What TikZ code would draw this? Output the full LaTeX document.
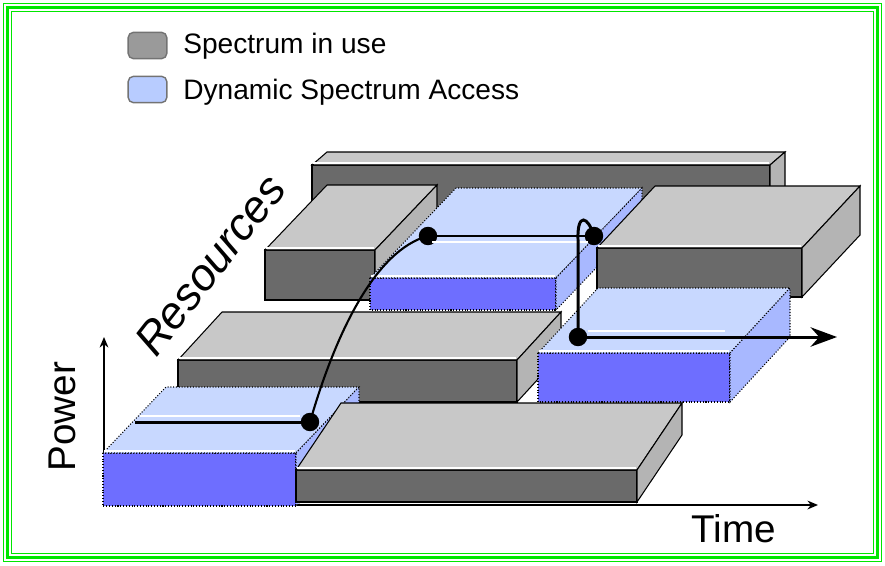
\documentclass[tikz,border=0pt]{standalone}
\usepackage{fontspec}
\setmainfont{Liberation Sans}
\usetikzlibrary{arrows.meta}

\definecolor{grayTop}{HTML}{C8C8C8}
\definecolor{grayFront}{HTML}{6A6A6A}
\definecolor{graySide}{HTML}{B4B4B4}
\definecolor{blueTop}{HTML}{C8D8FF}
\definecolor{blueFront}{HTML}{6E6EFF}
\definecolor{blueSide}{HTML}{A8B8FF}
\definecolor{frameGreen}{HTML}{00E600}
\definecolor{legGray}{HTML}{9A9A9A}
\definecolor{legBlue}{HTML}{B8CCFF}

\tikzset{
  grayfront/.style={fill=grayFront, draw=black, line width=0.6pt},
  graytop/.style={fill=grayTop, draw=black, line width=0.6pt},
  grayside/.style={fill=graySide, draw=black, line width=0.6pt},
  bluefront/.style={fill=blueFront, draw=black, line width=0.6pt, densely dotted},
  bluetop/.style={fill=blueTop, draw=black, line width=0.6pt, densely dotted},
  blueside/.style={fill=blueSide, draw=black, line width=0.6pt, densely dotted},
  legbox/.style={draw=black!55, line width=0.8pt, rounded corners=3pt, minimum width=22pt, minimum height=15pt, inner sep=0pt},
  dot/.style={circle, fill=black, inner sep=0pt, minimum size=10.5pt},
  route/.style={black, line width=1.7pt},
  shine/.style={white, line width=1pt},
  axis/.style={black, line width=0.9pt, -{Stealth[length=6pt,width=5pt]}}
}

% slab: front top left x, y, width, height, depth x, depth y, colour
\newcommand{\slab}[7]{%
  \filldraw[#7front] (#1,#2) rectangle ({#1+#3},{#2+#4});
  \filldraw[#7top] (#1,#2) -- ({#1+#5},{#2+#6}) -- ({#1+#3+#5},{#2+#6}) -- ({#1+#3},#2) -- cycle;
  \filldraw[#7side] ({#1+#3},#2) -- ({#1+#3+#5},{#2+#6}) -- ({#1+#3+#5},{#2+#6+#4}) -- ({#1+#3},{#2+#4}) -- cycle;
  \draw[white, line width=1pt] ({#1+1},{#2-1.8}) -- ({#1+#3-1},{#2-1.8});
}

\begin{document}
\begin{tikzpicture}[x=0.02cm, y=-0.02cm]
\useasboundingbox (0,0) rectangle (885,565);
% frame
\draw[frameGreen, line width=0.6pt] (3.5,3.5) rectangle (881.5,561.5);
\draw[frameGreen, line width=1.6pt] (7.5,7.5) rectangle (877.5,557.5);
\draw[frameGreen, line width=0.6pt] (11.5,11.5) rectangle (873.5,553.5);

% legend
\node[legbox, fill=legGray] (leguse) at (147.5,45.5) {};
\node[legbox, fill=legBlue] (legdsa) at (147.5,89.5) {};
\node[anchor=base west, inner sep=0pt, font=\fontsize{16}{19}\selectfont] (txtuse) at (183,53) {Spectrum in use};
\node[anchor=base west, inner sep=0pt, font=\fontsize{16}{19}\selectfont] (txtdsa) at (183,99) {Dynamic Spectrum Access};

% axes
\coordinate (origin) at (104,505);
\coordinate (ptop) at (104,337);
\coordinate (tend) at (818,505);
\draw[axis] (origin) -- (ptop);
\draw[axis] (origin) -- (tend);

% slabs, back to front
\slab{312}{165}{458}{45}{15}{-13}{gray}
\slab{265}{250}{110}{50}{62}{-65}{gray}
\slab{370}{278}{186}{32}{86}{-90}{blue}
\slab{597}{248}{205}{49}{58}{-62}{gray}
\slab{178}{360}{339}{42}{44}{-48}{gray}
\slab{538}{353}{192}{49}{60}{-65}{blue}
\slab{103}{453}{193}{53}{63}{-66}{blue}
\slab{296}{470}{341}{32}{45}{-67}{gray}

% hopping path
\coordinate (hstart) at (135,422);
\node[dot] (d1) at (310,422) {};
\node[dot] (d2) at (428,236) {};
\node[dot] (d3) at (594,236) {};
\node[dot] (d4) at (578,337) {};
\coordinate (hend) at (837,337);
\draw[shine] (140,416) -- (300,416);
\draw[shine] (432,242) -- (588,242);
\draw[shine] (588,331) -- (725,331);
\draw[route] (hstart) -- (d1.center);
\draw[route, line width=1.2pt] (d1.center) .. controls (335,335) and (375,250) .. (d2.center);
\draw[route] (d2.center) -- (d3.center);
\draw[route] (d3.center) .. controls (588,216) and (577,212) .. (578,240) -- (d4.center);
\draw[route, -{Stealth[length=15pt,width=11pt]}] (d4.center) -- (hend);

% labels
\node[rotate=90, inner sep=0pt, font=\fontsize{22}{26}\selectfont] (power) at (62.5,416.5) {Power};
\node[inner sep=0pt, font=\fontsize{22}{26}\selectfont] (time) at (733.5,528.5) {Time};
\node[rotate=52, inner sep=0pt, font=\itshape\fontsize{25.5}{30}\selectfont] (res) at (210,265) {Resources};
\end{tikzpicture}
\end{document}
